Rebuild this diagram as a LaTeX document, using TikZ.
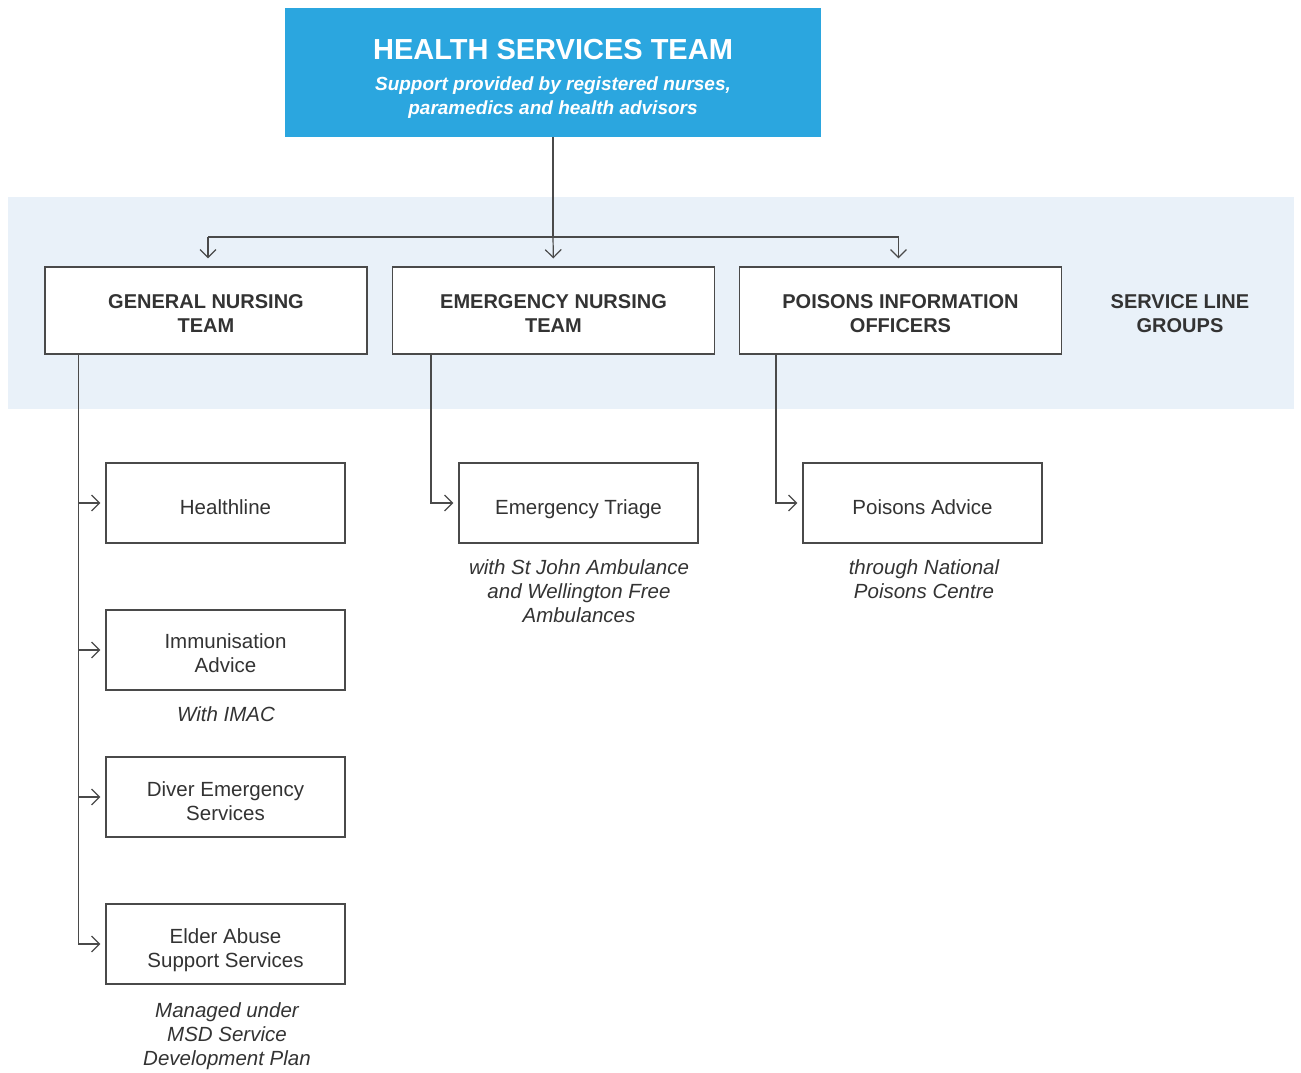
\documentclass[tikz,border=0pt]{standalone}
\usepackage{fontspec}
\setmainfont{Liberation Sans}
\usetikzlibrary{arrows.meta,calc}
\definecolor{hsblue}{HTML}{2BA6DF}
\definecolor{bandblue}{HTML}{E9F1F9}
\definecolor{ink}{HTML}{333333}
\definecolor{rule}{HTML}{4A4A4A}
\begin{document}
\begin{tikzpicture}[x=1pt,y=-1pt,
  txt/.style={font=\fontsize{20.5}{24}\selectfont, text=ink, align=center, inner sep=0pt},
  headtxt/.style={txt, font=\fontsize{20}{24}\selectfont\bfseries},
  teambox/.style={draw=rule, line width=1.2pt, fill=white, minimum width=322pt, minimum height=87pt, inner sep=0pt},
  svcbox/.style={draw=rule, line width=1.2pt, fill=white, minimum width=239pt, minimum height=80pt, inner sep=0pt},
  note/.style={txt, font=\fontsize{20.5}{24}\selectfont\itshape},
  link/.style={draw=rule, line width=1.2pt},
  arr/.style={link, -{Straight Barb[length=8pt,width=16pt,line width=1.2pt]}}]
\useasboundingbox (0,0) rectangle (1301,1073);

% service line band
\fill[bandblue] (8,197) rectangle (1294,409);

% top team
\node[fill=hsblue, minimum width=536pt, minimum height=129pt, inner sep=0pt] (hst) at (553,72.5) {};
\node[font=\fontsize{29}{32}\selectfont\bfseries, text=white, inner sep=0pt] (hsttitle) at (553,49.5) {HEALTH SERVICES TEAM};
\node[font=\fontsize{19}{24}\selectfont\bfseries\itshape, text=white, align=center, inner sep=0pt] (hstsub) at (553,98)
  {Support provided by registered nurses,\\paramedics and health advisors};

% service line groups
\node[teambox, label={[headtxt,yshift=-3pt]center:GENERAL NURSING\\TEAM}] (gn) at (206,310.5) {};
\node[teambox, label={[headtxt,yshift=-3pt]center:EMERGENCY NURSING\\TEAM}] (en) at (553.5,310.5) {};
\node[teambox, label={[headtxt,yshift=-3pt]center:POISONS INFORMATION\\OFFICERS}] (pi) at (900.5,310.5) {};
\node[headtxt] (slg) at (1180,314) {SERVICE LINE\\GROUPS};

% services
\node[svcbox, label={[txt,yshift=-4pt]center:Healthline}] (hl) at (225.5,503) {};
\node[svcbox, label={[txt,yshift=-3pt]center:Immunisation\\Advice}] (ia) at (225.5,650) {};
\node[svcbox, label={[txt,yshift=-4pt]center:Diver Emergency\\Services}] (de) at (225.5,797) {};
\node[svcbox, label={[txt,yshift=-6pt]center:Elder Abuse\\Support Services}] (ea) at (225.5,944) {};
\node[svcbox, label={[txt,yshift=-6pt]center:Emergency Triage}] (et) at (578.5,503) {};
\node[svcbox, label={[txt,yshift=-4pt]center:Poisons Advice}] (pa) at (922.5,503) {};

% notes
\node[note, anchor=north] (iaNote) at (226,706) {With IMAC};
\node[note, anchor=north] (eaNote) at (227,1002) {Managed under\\MSD Service\\Development Plan};
\node[note, anchor=north] (etNote) at (579,559) {with St John Ambulance\\and Wellington Free\\Ambulances};
\node[note, anchor=north] (paNote) at (924,559) {through National\\Poisons Centre};

% team connectors
\coordinate (split) at (553,237);
\coordinate (gnIn) at ($(gn.north)+(2,0)$);
\coordinate (piIn) at ($(pi.north)+(-2,0)$);
\draw[link] (hst.south) -- (split);
\draw[link] (split -| gnIn) -- (split -| piIn);
\draw[arr, shorten >=8pt] (split -| gnIn) -- (gnIn);
\draw[arr, shorten >=8pt] (split) -- (en.north);
\draw[arr, shorten >=8pt] (split -| piIn) -- (piIn);

% service connectors
\coordinate (gnTrunk) at ($(gn.south west)+(34,0)$);
\coordinate (enTrunk) at ($(en.south west)+(39,0)$);
\coordinate (piTrunk) at ($(pi.south west)+(37,0)$);
\foreach \s in {hl,ia,de,ea}
  \draw[arr, shorten >=5pt] (gnTrunk) |- (\s.west);
\draw[arr, shorten >=5pt] (enTrunk) |- (et.west);
\draw[arr, shorten >=5pt] (piTrunk) |- (pa.west);
\end{tikzpicture}
\end{document}
